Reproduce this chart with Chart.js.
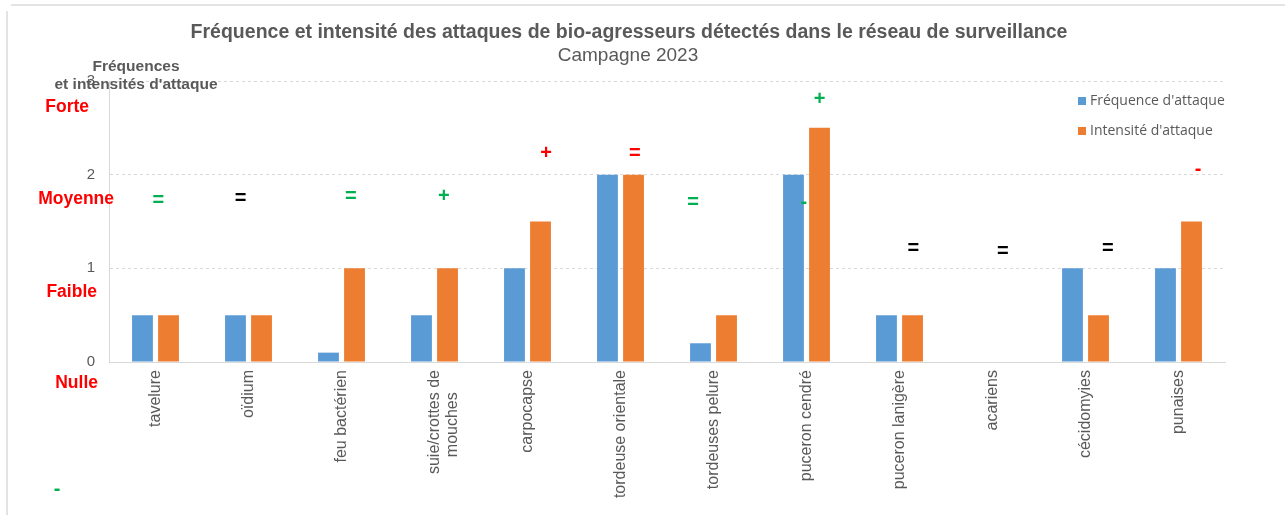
<!DOCTYPE html>
<html><head><meta charset="utf-8">
<script src="https://cdn.jsdelivr.net/npm/chart.js@4.4.0/dist/chart.umd.min.js"></script>
<style>html,body{margin:0;padding:0;background:#fff}#wrap{width:1285px;height:515px;position:relative}</style>
</head><body><div id="wrap"><canvas id="c" width="1285" height="515"></canvas></div>
<script>
const categories = ["tavelure","oïdium","feu bactérien",["suie/crottes de","mouches     "],"carpocapse","tordeuse orientale","tordeuses pelure","puceron cendré","puceron lanigère","acariens","cécidomyies","punaises"];
const frequence = [0.5,0.5,0.1,0.5,1,2,0.2,2,0.5,0,1,1];
const intensite = [0.5,0.5,1,1,1.5,2,0.5,2.5,0.5,0,0.5,1.5];
const yTicks = [0,1,2,3];
const levelLabels = ["Nulle","Faible","Moyenne","Forte"];
const levelValues = [-0.23,0.75,1.74,2.72];
// trend marks: [category index, x offset in category units, y value, symbol, colour]
const marks = [
 [0,0.03,1.72,"=","#00B050"],[1,-0.085,1.75,"=","#000000"],[2,0.10,1.77,"=","#00B050"],
 [3,0.10,1.77,"+","#00B050"],[4,0.20,2.23,"+","#FF0000"],[5,0.155,2.23,"=","#FF0000"],
 [6,-0.22,1.70,"=","#00B050"],[7,0.14,2.80,"+","#00B050"],[7,-0.03,1.70,"-","#00B050"],
 [8,0.15,1.21,"=","#000000"],[9,0.11,1.18,"=","#000000"],[10,0.24,1.21,"=","#000000"],
 [11,0.21,2.06,"-","#FF0000"]
];
const titleText = "Fréquence et intensité des attaques de bio-agresseurs détectés dans le réseau de surveillance";
const subtitleText = "Campagne 2023";
const axisTitle = ["Fréquences","et intensités d'attaque"];
const seriesNames = ["Fréquence d'attaque","Intensité d'attaque"];
const colors = ["#5B9BD5","#ED7D31"];

const overlay = {
  id:'overlay',
  beforeDraw(chart){
    const c=chart.ctx; c.save();
    c.strokeStyle='#e3e3e3'; c.lineWidth=2;
    c.beginPath(); c.moveTo(11,5); c.lineTo(1285,5); c.moveTo(7,11); c.lineTo(7,515); c.stroke();
    c.restore();
  },
  afterDraw(chart){
    const c=chart.ctx, xs=chart.scales.x, ys=chart.scales.y;
    c.save();
    c.fillStyle='#595959'; c.textAlign='center'; c.textBaseline='middle';
    c.font='bold 19.5px "Liberation Sans", Arial, sans-serif';
    c.fillText(titleText,629,33);
    c.font='19px "Liberation Sans", Arial, sans-serif';
    c.fillText(subtitleText,628,56);
    c.font='bold 15.5px "Liberation Sans", Arial, sans-serif';
    c.fillText(axisTitle[0],136,67);
    c.fillText(axisTitle[1],136,85);
    // level labels
    c.fillStyle='#FF0000'; c.font='bold 17.5px "Liberation Sans", Arial, sans-serif';
    c.textAlign='right';
    const rights=[98,97,114,89];
    levelLabels.forEach((t,i)=>{ c.fillText(t,rights[i], ys.getPixelForValue(levelValues[i])); });
    // trend marks
    c.textAlign='center';
    const catW = xs.getPixelForValue(1)-xs.getPixelForValue(0);
    c.font='bold 20px "Liberation Sans", Arial, sans-serif';
    marks.forEach(m=>{
      c.fillStyle=m[4];
      c.fillText(m[3], xs.getPixelForValue(m[0])+m[1]*catW, ys.getPixelForValue(m[2]));
    });
    c.fillStyle='#00B050'; c.fillText("-",57,489);
    // legend
    c.font='14px "Open Sans", "Liberation Sans", sans-serif'; c.textAlign='left';
    seriesNames.forEach((s,i)=>{
      const y=101+i*30;
      c.fillStyle=colors[i]; c.fillRect(1078,y-4,8,8);
      c.fillStyle='#595959'; c.fillText(s,1090,y);
    });
    c.restore();
  }
};

new Chart(document.getElementById('c'),{
  type:'bar',
  data:{labels:categories,datasets:[
    {label:seriesNames[0],data:frequence,backgroundColor:colors[0],barPercentage:0.8,categoryPercentage:0.56},
    {label:seriesNames[1],data:intensite,backgroundColor:colors[1],barPercentage:0.8,categoryPercentage:0.56}
  ]},
  options:{
    responsive:false,animation:false,devicePixelRatio:1,
    layout:{padding:{top:81,left:0,right:60,bottom:0}},
    plugins:{legend:{display:false},title:{display:false},tooltip:{enabled:false}},
    scales:{
      x:{
        grid:{display:false,drawTicks:false},
        border:{display:true,color:'#d9d9d9',width:1},
        ticks:{autoSkip:false,maxRotation:90,minRotation:90,padding:8,color:'#595959',font:{family:'"Liberation Sans", Arial, sans-serif',size:16,lineHeight:1.1}},
        afterFit(s){s.height=153;}
      },
      y:{
        min:0,max:3,
        afterBuildTicks(s){s.ticks=yTicks.map(v=>({value:v}));},
        grid:{color:'#d9d9d9',drawTicks:false},
        border:{display:true,color:'#d9d9d9',dash:[3,3]},
        ticks:{padding:14,color:'#595959',font:{family:'"Liberation Sans", Arial, sans-serif',size:15}},
        afterFit(s){s.width=109;}
      }
    }
  },
  plugins:[overlay]
});
</script></body></html>
